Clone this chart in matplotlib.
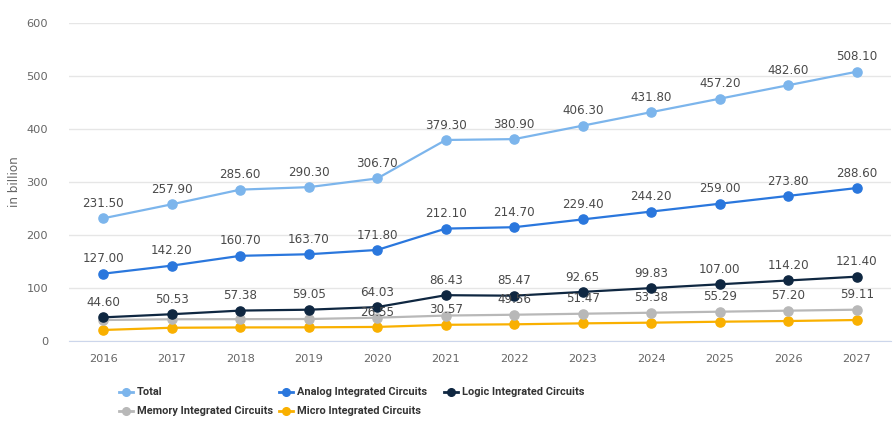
import matplotlib
matplotlib.use("Agg")
import matplotlib.pyplot as plt
from matplotlib.lines import Line2D

years = ["2016", "2017", "2018", "2019", "2020", "2021",
         "2022", "2023", "2024", "2025", "2026", "2027"]

total = [231.50, 257.90, 285.60, 290.30, 306.70, 379.30,
         380.90, 406.30, 431.80, 457.20, 482.60, 508.10]
analog = [127.00, 142.20, 160.70, 163.70, 171.80, 212.10,
          214.70, 229.40, 244.20, 259.00, 273.80, 288.60]
logic = [44.60, 50.53, 57.38, 59.05, 64.03, 86.43,
         85.47, 92.65, 99.83, 107.00, 114.20, 121.40]
memory = [39.6, 41.0, 41.2, 41.5, 44.0, 48.0,
          49.56, 51.47, 53.38, 55.29, 57.20, 59.11]
micro = [20.8, 25.0, 25.6, 25.8, 26.55, 30.57,
         31.5, 33.3, 34.6, 36.4, 37.7, 39.6]

# which points carry a value label (others are hidden to avoid overlap)
show_total = list(range(12))
show_analog = list(range(12))
show_logic = list(range(12))
show_memory = list(range(6, 12))
show_micro = [4, 5]

series = [
    ("Total", total, "#7cb5ec", show_total),
    ("Analog Integrated Circuits", analog, "#2a77dd", show_analog),
    ("Logic Integrated Circuits", logic, "#0f2741", show_logic),
    ("Memory Integrated Circuits", memory, "#b8b8b8", show_memory),
    ("Micro Integrated Circuits", micro, "#f9b000", show_micro),
]

W, H = 894, 422
fig = plt.figure(figsize=(W / 100, H / 100), dpi=100)
ax = fig.add_axes([69 / W, 1 - 341 / H, (891 - 69) / W, (341 - 23) / H])

x = list(range(len(years)))
for i in [4, 3, 2, 1, 0]:
    name, vals, col, show = series[i]
    ax.plot(x, vals, color=col, lw=1.6, marker="o", ms=6.6, zorder=4 + (4 - i) * 0.1)

for name, vals, col, show in series:
    for j in show:
        ax.annotate(f"{vals[j]:.2f}", (x[j], vals[j]), xytext=(0, 6),
                    textcoords="offset points", ha="center", va="bottom",
                    fontsize=8.6, color="#4a4a4a", zorder=10)

ax.set_xlim(-0.5, len(years) - 0.5)
ax.set_ylim(0, 600)
ax.set_yticks(range(0, 601, 100))
ax.set_xticks(x)
ax.set_xticklabels(years)
ax.grid(axis="y", color="#e6e6e6", lw=1)
ax.set_axisbelow(True)
for s in ["top", "right", "left"]:
    ax.spines[s].set_visible(False)
ax.spines["bottom"].set_color("#ccd6eb")
ax.tick_params(axis="both", length=0, colors="#666666", labelsize=8.2)
ax.tick_params(axis="x", pad=9)
ax.tick_params(axis="y", pad=15)
fig.text(15 / W, 1 - 182 / H, "in billion", rotation=90, color="#666666",
         fontsize=8.6, ha="center", va="center")

# legend laid out in rows
legend_font = ["Roboto", "DejaVu Sans"]
pos = [(126, 392), (286, 392), (451, 392), (126, 411), (286, 411)]
for k, (px, py) in enumerate(pos):
    name, vals, col, show = series[k]
    fx, fy = px / W, 1 - py / H
    fig.add_artist(Line2D([fx - 7 / W, fx + 7 / W], [fy, fy], transform=fig.transFigure,
                          color=col, lw=2))
    fig.add_artist(Line2D([fx], [fy], transform=fig.transFigure, color=col,
                          marker="o", ms=5.5))
    fig.text(fx + 11 / W, fy, name, family=legend_font, fontweight="bold",
             fontsize=7.9, color="#333333", va="center", ha="left")

fig.savefig("out.png", dpi=100)
